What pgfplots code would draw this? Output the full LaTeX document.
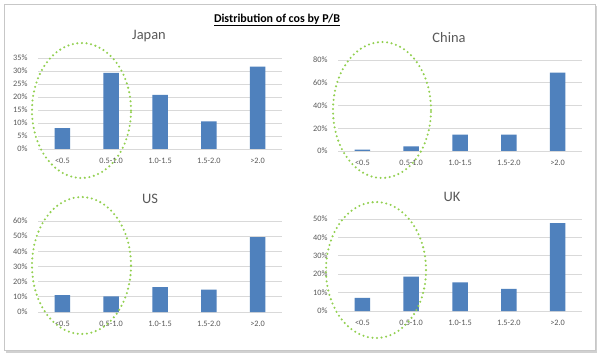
\documentclass[border=0pt]{standalone}
\usepackage{pgfplots}
\pgfplotsset{compat=1.18}
\usepackage{fontspec}
\setmainfont{Carlito}
\definecolor{barblue}{HTML}{4F81BD}
\definecolor{txtgray}{HTML}{595959}
\definecolor{gridgray}{HTML}{D9D9D9}
\definecolor{ovalgreen}{HTML}{92D050}
\pgfplotsset{
  panel/.style={
    scale only axis,
    ybar,
    bar width=15.5bp,
    xmin=-0.5, xmax=4.5, ymin=0,
    xtick={0,1,2,3,4},
    xticklabels={<0.5,0.5-1.0,1.0-1.5,1.5-2.0,>2.0},
    axis line style={draw=none},
    major tick length=0pt,
    ymajorgrids,
    grid style={gridgray, line width=0.8bp},
    tick label style={font=\fontsize{8.3}{9}\selectfont, text=txtgray},
    /pgf/number format/assume math mode=true,
    yticklabel={\pgfmathprintnumber{\tick}\%},
    yticklabel style={xshift=-7bp},
    xticklabel style={yshift=-6bp},
    title style={font=\fontsize{14.5}{16}\selectfont, text=txtgray, anchor=center, yshift=16bp},
    clip=false,
  },
  barstyle/.style={fill=barblue, draw=none},
}
\begin{document}
\begin{tikzpicture}[x=1bp,y=1bp]
\path[use as bounding box] (0,0) rectangle (602,356);
% frame with shadow
\fill[black!18] (6,3) rectangle (597,350);
\filldraw[fill=white, draw=black!22, line width=0.8bp] (4,6) rectangle (595,352);
\node[font=\bfseries\fontsize{12}{14}\selectfont] at (277,336) {\underline{Distribution of cos by P/B}};

% Japan
\begin{axis}[panel, at={(38bp,207bp)}, anchor=south west, width=244bp, height=91bp,
  ymax=35, ytick={0,5,10,15,20,25,30,35}, title={Japan}, title style={at={(0.455,1)}}]
\addplot[barstyle] coordinates {(0,8.0) (1,29.3) (2,20.8) (3,10.6) (4,31.7)};
\end{axis}

% China
\begin{axis}[panel, at={(338bp,205bp)}, anchor=south west, width=244bp, height=91bp,
  ymax=80, ytick={0,20,40,60,80}, title={China}, title style={at={(0.455,1)}}]
\addplot[barstyle] coordinates {(0,1.2) (1,4.1) (2,14.5) (3,14.5) (4,68.9)};
\end{axis}

% US
\begin{axis}[panel, at={(38bp,44bp)}, anchor=south west, width=244bp, height=91bp,
  ymax=60, ytick={0,10,20,30,40,50,60}, title={US}, title style={at={(0.459,1)}}]
\addplot[barstyle] coordinates {(0,11.2) (1,10.3) (2,16.4) (3,14.7) (4,49.3)};
\end{axis}

% UK
\begin{axis}[panel, at={(338bp,45bp)}, anchor=south west, width=244bp, height=92bp,
  ymax=50, ytick={0,10,20,30,40,50}, title={UK}, title style={at={(0.467,1)}}]
\addplot[barstyle] coordinates {(0,7.1) (1,18.7) (2,15.6) (3,12.0) (4,47.8)};
\end{axis}

% green dotted ovals
\begin{scope}[draw=ovalgreen, line width=2.3bp, line cap=round, dash pattern=on 0pt off 4.6bp]
\draw (81.5,245.5) ellipse [x radius=49.5, y radius=67.5];
\draw (382,246) ellipse [x radius=49, y radius=68];
\draw (81.5,90.5) ellipse [x radius=49.5, y radius=68.5];
\draw (376,86) ellipse [x radius=50, y radius=68];
\end{scope}
\end{tikzpicture}
\end{document}
